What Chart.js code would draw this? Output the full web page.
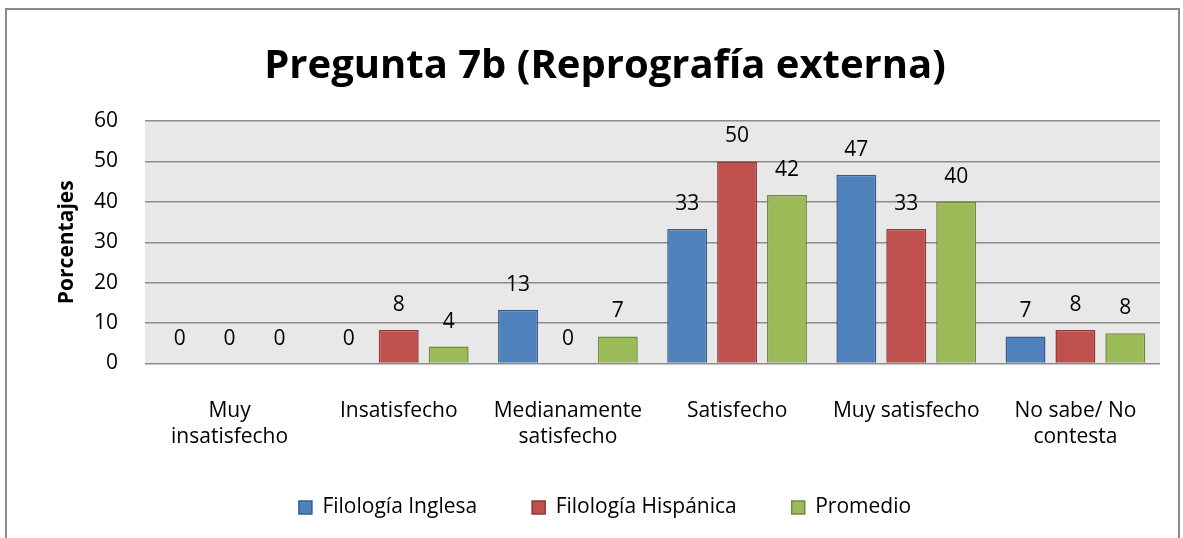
<!DOCTYPE html>
<html>
<head>
<meta charset="utf-8">
<script src="https://cdn.jsdelivr.net/npm/chart.js@4/dist/chart.umd.min.js"></script>
<style>
  body { margin: 0; background: #fff; }
  #frame { position: absolute; left: 5px; top: 8px; width: 1171px; height: 540px; border: 2px solid #8a8a8a; }
  #wrap { position: absolute; left: 0; top: 0; width: 1183px; height: 538px; }
</style>
</head>
<body>
<div id="frame"></div>
<div id="wrap"><canvas id="chart" width="1183" height="538"></canvas></div>
<script>
const categories = [
  ["Muy", "insatisfecho"],
  "Insatisfecho",
  ["Medianamente", "satisfecho"],
  "Satisfecho",
  "Muy satisfecho",
  ["No sabe/ No", "contesta"]
];
const inglesa = [0, 0, 13.3, 33.3, 46.7, 6.7];
const hispanica = [0, 8.3, 0, 50, 33.3, 8.3];
const promedio = [0, 4.2, 6.7, 41.7, 40, 7.5];
const yTicks = [0, 10, 20, 30, 40, 50, 60];

const FONT = "'Open Sans', sans-serif";

const plotBg = {
  id: "plotBg",
  beforeDraw(chart) {
    const { ctx, chartArea: a } = chart;
    ctx.save();
    ctx.fillStyle = "#e8e8e8";
    ctx.fillRect(a.left, a.top, a.right - a.left, a.bottom - a.top);
    ctx.restore();
  }
};

const valueLabels = {
  id: "valueLabels",
  afterDatasetsDraw(chart) {
    const ctx = chart.ctx;
    ctx.save();
    ctx.font = "21px " + FONT;
    ctx.fillStyle = "#000";
    ctx.textAlign = "center";
    ctx.textBaseline = "alphabetic";
    chart.data.datasets.forEach((ds, i) => {
      chart.getDatasetMeta(i).data.forEach((bar, j) => {
        ctx.fillText(String(Math.round(ds.data[j])), bar.x, bar.y - 19);
      });
    });
    ctx.restore();
  }
};

new Chart(document.getElementById("chart"), {
  type: "bar",
  data: {
    labels: categories,
    datasets: [
      { label: "Filología Inglesa", data: inglesa, backgroundColor: "#4F81BD", borderColor: "#385D8A", borderWidth: 1.5 },
      { label: "Filología Hispánica", data: hispanica, backgroundColor: "#C0504D", borderColor: "#8C3836", borderWidth: 1.5 },
      { label: "Promedio", data: promedio, backgroundColor: "#9BBB59", borderColor: "#71893F", borderWidth: 1.5 }
    ]
  },
  options: {
    responsive: false,
    animation: false,
    categoryPercentage: 0.885,
    barPercentage: 0.8,
    layout: { padding: { left: 50, right: 23, top: 24, bottom: 10 } },
    plugins: {
      title: {
        display: true,
        text: "Pregunta 7b (Reprografía externa)",
        color: "#000",
        font: { family: FONT, size: 40, weight: "bold" },
        padding: { top: 19, bottom: 30 }
      },
      legend: {
        position: "bottom",
        labels: {
          color: "#000",
          font: { family: FONT, size: 21 },
          boxWidth: 13,
          boxHeight: 13,
          padding: 55
        }
      },
      tooltip: { enabled: false }
    },
    scales: {
      x: {
        afterFit(axis) {
          // labels spill into the legend's top padding, so don't clip them
          axis.height -= 34;
          axis._computeLabelArea = () => undefined;
        },
        grid: { display: false },
        border: { display: false },
        ticks: { color: "#000", font: { family: FONT, size: 21, lineHeight: 1.25 }, maxRotation: 0, autoSkip: false, padding: 26 }
      },
      y: {
        min: 0,
        max: 60,
        afterBuildTicks(axis) { axis.ticks = yTicks.map(v => ({ value: v })); },
        afterFit(axis) { axis.width = 95; },
        grid: { color: "#8c8c8c", lineWidth: 1.5, drawTicks: false },
        border: { display: false },
        ticks: { color: "#000", font: { family: FONT, size: 21 }, padding: 27 },
        title: {
          display: true,
          text: "Porcentajes",
          color: "#000",
          font: { family: FONT, size: 21, weight: "bold" },
          padding: { bottom: 19 }
        }
      }
    }
  },
  plugins: [plotBg, valueLabels]
});
</script>
</body>
</html>
